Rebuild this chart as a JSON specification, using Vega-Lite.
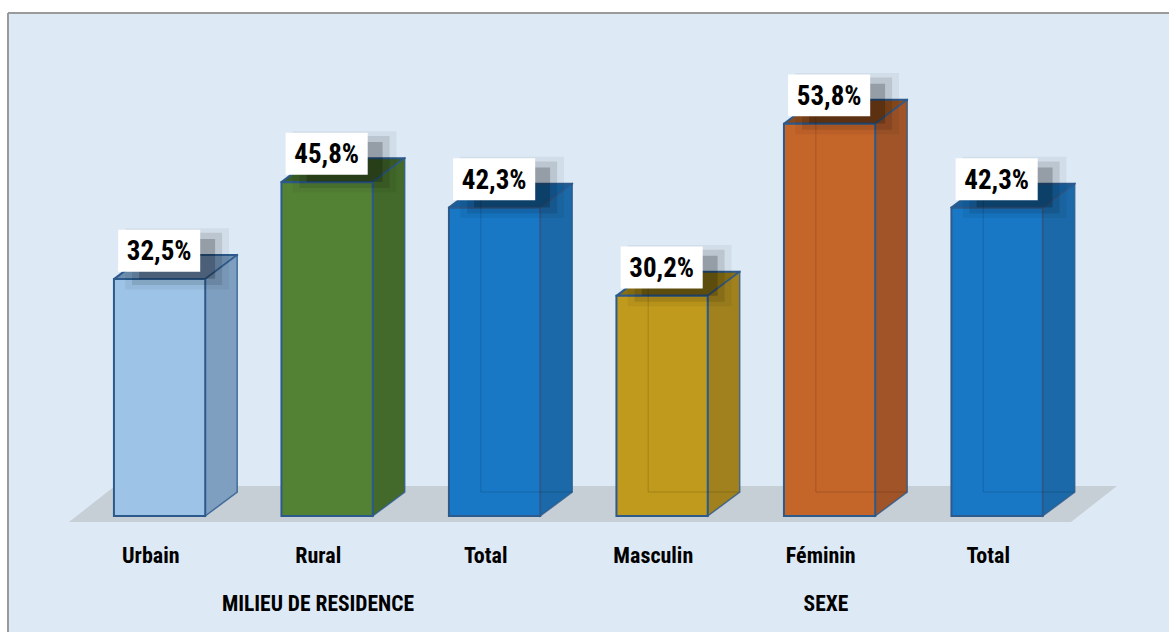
{
"$schema":"https://vega.github.io/schema/vega-lite/v6.json",
"width":1161,"height":619,
"autosize":{"type":"none"},
"padding":{"left":8,"top":13,"right":0,"bottom":0},
"background":"#ffffff",
"view":{"fill":"#dde9f5","stroke":null},
"datasets":{
"bars":[
{"idx":0,"cat":"Urbain","value":32.5,"label":"32,5%"},
{"idx":1,"cat":"Rural","value":45.8,"label":"45,8%"},
{"idx":2,"cat":"Total","value":42.3,"label":"42,3%"},
{"idx":3,"cat":"Masculin","value":30.2,"label":"30,2%"},
{"idx":4,"cat":"Féminin","value":53.8,"label":"53,8%"},
{"idx":5,"cat":"Total","value":42.3,"label":"42,3%"}],
"groups":[{"g":"MILIEU DE RESIDENCE","at":0.943},{"g":"SEXE","at":3.976}],
"floor":[{"fx":-0.543,"fy":-0.82,"fy2":-0.82},{"fx":-0.269,"fy":-0.82,"fy2":4.12},{"fx":5.439,"fy":-0.82,"fy2":4.12},{"fx":5.713,"fy":4.12,"fy2":4.12}]
},
"data":{"name":"bars"},
"layer":[
{"data":{"name":"floor"},"mark":{"type":"area","orient":"vertical","color":"#c6ced6"},
 "encoding":{"x":{"field":"fx","type":"quantitative","axis":null,"scale":{"domain":[-0.9075,6.0239],"nice":false,"zero":false}},
 "y":{"field":"fy","type":"quantitative","axis":null,"scale":{"domain":[-15.91,69.0],"nice":false,"zero":false}},"y2":{"field":"fy2"}}},
{"transform":[{"calculate":"[datum.idx-0.275,datum.idx-0.085,datum.idx+0.27,datum.idx+0.461]","as":"tx"},
 {"calculate":"[datum.value,datum.value,datum.value,datum.value+3.29]","as":"ty"},
 {"calculate":"[datum.value,datum.value+3.29,datum.value+3.29,datum.value+3.29]","as":"ty2"},
 {"calculate":"'top '+datum.cat","as":"face"},
 {"flatten":["tx","ty","ty2"]}],
 "mark":{"type":"area","orient":"vertical","stroke":"#2c5a8c","strokeWidth":2,"strokeJoin":"round"},
 "encoding":{"x":{"field":"tx","type":"quantitative","axis":null,"scale":{"domain":[-0.9075,6.0239],"nice":false,"zero":false}},
 "y":{"field":"ty","type":"quantitative","axis":null,"scale":{"domain":[-15.91,69.0],"nice":false,"zero":false}},"y2":{"field":"ty2"},
 "detail":{"field":"idx"},
 "color":{"field":"face","type":"nominal","legend":null,"scale":{"domain":["front Urbain","front Rural","front Total","front Masculin","front Féminin","side Urbain","side Rural","side Total","side Masculin","side Féminin","top Urbain","top Rural","top Total","top Masculin","top Féminin"],"range":["#9dc3e6","#548235","#1878c6","#c09a1c","#c4652a","#7f9fc0","#436a2a","#1b69a8","#a0811d","#a05428","#6f8fb0","#3a5c26","#155f9c","#8a7015","#8a4a1c"]}}}},
{"transform":[{"calculate":"[datum.idx+0.27,datum.idx+0.461]","as":"sx"},
 {"calculate":"[0,3.29]","as":"sy"},
 {"calculate":"[datum.value,datum.value+3.29]","as":"sy2"},
 {"calculate":"'side '+datum.cat","as":"face"},
 {"flatten":["sx","sy","sy2"]}],
 "mark":{"type":"area","orient":"vertical","stroke":"#2c5a8c","strokeWidth":1.5,"strokeOpacity":0.8},
 "encoding":{"x":{"field":"sx","type":"quantitative","axis":null,"scale":{"domain":[-0.9075,6.0239],"nice":false,"zero":false}},
 "y":{"field":"sy","type":"quantitative","axis":null,"scale":{"domain":[-15.91,69.0],"nice":false,"zero":false}},"y2":{"field":"sy2"},
 "detail":{"field":"idx"},
 "color":{"field":"face","type":"nominal","legend":null}}},
{"transform":[{"calculate":"datum.idx-0.275","as":"x0"},{"calculate":"datum.idx+0.27","as":"x1"},{"calculate":"0","as":"base"},{"calculate":"'front '+datum.cat","as":"face"}],
 "mark":{"type":"rect","stroke":"#2c5a8c","strokeWidth":2},
 "encoding":{"x":{"field":"x0","type":"quantitative","axis":null,"scale":{"domain":[-0.9075,6.0239],"nice":false,"zero":false}},"x2":{"field":"x1"},
 "y":{"field":"value","type":"quantitative","axis":null,"scale":{"domain":[-15.91,69.0],"nice":false,"zero":false}},"y2":{"field":"base"},
 "color":{"field":"face","type":"nominal","legend":null}}},
{"transform":[{"filter":"datum.idx>=2"},{"calculate":"datum.idx-0.085","as":"bx"},{"calculate":"datum.value+3.29","as":"bt"},{"calculate":"3.29","as":"bb"}],
 "mark":{"type":"rule","color":"#000000","opacity":0.1,"strokeWidth":1.5},
 "encoding":{"x":{"field":"bx","type":"quantitative","axis":null,"scale":{"domain":[-0.9075,6.0239],"nice":false,"zero":false}},
 "y":{"field":"bb","type":"quantitative","axis":null,"scale":{"domain":[-15.91,69.0],"nice":false,"zero":false}},"y2":{"field":"bt"}}},
{"transform":[{"filter":"datum.idx>=2"},{"calculate":"datum.idx-0.085","as":"bx"},{"calculate":"datum.idx+0.461","as":"bx2"},{"calculate":"3.29","as":"bb"}],
 "mark":{"type":"rule","color":"#000000","opacity":0.1,"strokeWidth":1.5},
 "encoding":{"x":{"field":"bx","type":"quantitative","axis":null,"scale":{"domain":[-0.9075,6.0239],"nice":false,"zero":false}},"x2":{"field":"bx2"},
 "y":{"field":"bb","type":"quantitative","axis":null,"scale":{"domain":[-15.91,69.0],"nice":false,"zero":false}}}},
{"transform":[{"calculate":"datum.idx+0.102-0.31","as":"a"},{"calculate":"datum.idx+0.102+0.31","as":"b"},{"calculate":"datum.value+2.77-4.2","as":"c"},{"calculate":"datum.value+2.77+4.2","as":"d"}],
 "mark":{"type":"rect","color":"#000000","opacity":0.05},
 "encoding":{"x":{"field":"a","type":"quantitative","axis":null,"scale":{"domain":[-0.9075,6.0239],"nice":false,"zero":false}},"x2":{"field":"b"},
 "y":{"field":"c","type":"quantitative","axis":null,"scale":{"domain":[-15.91,69.0],"nice":false,"zero":false}},"y2":{"field":"d"}}},
{"transform":[{"calculate":"datum.idx+0.102-0.269","as":"a"},{"calculate":"datum.idx+0.102+0.269","as":"b"},{"calculate":"datum.value+2.77-3.57","as":"c"},{"calculate":"datum.value+2.77+3.57","as":"d"}],
 "mark":{"type":"rect","color":"#000000","opacity":0.1},
 "encoding":{"x":{"field":"a","type":"quantitative","axis":null,"scale":{"domain":[-0.9075,6.0239],"nice":false,"zero":false}},"x2":{"field":"b"},
 "y":{"field":"c","type":"quantitative","axis":null,"scale":{"domain":[-15.91,69.0],"nice":false,"zero":false}},"y2":{"field":"d"}}},
{"transform":[{"calculate":"datum.idx+0.102-0.227","as":"a"},{"calculate":"datum.idx+0.102+0.227","as":"b"},{"calculate":"datum.value+2.77-2.74","as":"c"},{"calculate":"datum.value+2.77+2.74","as":"d"}],
 "mark":{"type":"rect","color":"#000000","opacity":0.2},
 "encoding":{"x":{"field":"a","type":"quantitative","axis":null,"scale":{"domain":[-0.9075,6.0239],"nice":false,"zero":false}},"x2":{"field":"b"},
 "y":{"field":"c","type":"quantitative","axis":null,"scale":{"domain":[-15.91,69.0],"nice":false,"zero":false}},"y2":{"field":"d"}}},
{"transform":[{"calculate":"datum.idx-0.005-0.245","as":"a"},{"calculate":"datum.idx-0.005+0.245","as":"b"},{"calculate":"datum.value+3.9-2.88","as":"c"},{"calculate":"datum.value+3.9+2.88","as":"d"}],
 "mark":{"type":"rect","color":"#ffffff"},
 "encoding":{"x":{"field":"a","type":"quantitative","axis":null,"scale":{"domain":[-0.9075,6.0239],"nice":false,"zero":false}},"x2":{"field":"b"},
 "y":{"field":"c","type":"quantitative","axis":null,"scale":{"domain":[-15.91,69.0],"nice":false,"zero":false}},"y2":{"field":"d"}}},
{"transform":[{"calculate":"datum.idx-0.005","as":"tx"},{"calculate":"datum.value+3.7","as":"ty"}],
 "mark":{"type":"text","font":"Roboto Condensed, Liberation Sans","fontWeight":"bold","fontSize":27,"color":"#000000","align":"center","baseline":"middle"},
 "encoding":{"x":{"field":"tx","type":"quantitative","axis":null,"scale":{"domain":[-0.9075,6.0239],"nice":false,"zero":false}},
 "y":{"field":"ty","type":"quantitative","axis":null,"scale":{"domain":[-15.91,69.0],"nice":false,"zero":false}},"text":{"field":"label"}}},
{"transform":[{"calculate":"datum.idx-0.055","as":"tx"},{"calculate":"-5.49","as":"ty"}],
 "mark":{"type":"text","font":"Roboto Condensed, Liberation Sans","fontWeight":"bold","fontSize":22,"color":"#000000","align":"center","baseline":"middle"},
 "encoding":{"x":{"field":"tx","type":"quantitative","axis":null,"scale":{"domain":[-0.9075,6.0239],"nice":false,"zero":false}},
 "y":{"field":"ty","type":"quantitative","axis":null,"scale":{"domain":[-15.91,69.0],"nice":false,"zero":false}},"text":{"field":"cat"}}},
{"data":{"name":"groups"},"transform":[{"calculate":"-12.2","as":"ty"}],
 "mark":{"type":"text","font":"Roboto Condensed, Liberation Sans","fontWeight":"bold","fontSize":21.5,"color":"#000000","align":"center","baseline":"middle"},
 "encoding":{"x":{"field":"at","type":"quantitative","axis":null,"scale":{"domain":[-0.9075,6.0239],"nice":false,"zero":false}},
 "y":{"field":"ty","type":"quantitative","axis":null,"scale":{"domain":[-15.91,69.0],"nice":false,"zero":false}},"text":{"field":"g"}}},
{"mark":{"type":"rule","color":"#9a9a9a","strokeWidth":2},
 "encoding":{"x":{"datum":-0.9075,"type":"quantitative","axis":null,"scale":{"domain":[-0.9075,6.0239],"nice":false,"zero":false}}}},
{"mark":{"type":"rule","color":"#9a9a9a","strokeWidth":2},
 "encoding":{"y":{"datum":69.0,"type":"quantitative","axis":null,"scale":{"domain":[-15.91,69.0],"nice":false,"zero":false}}}}
]
}
